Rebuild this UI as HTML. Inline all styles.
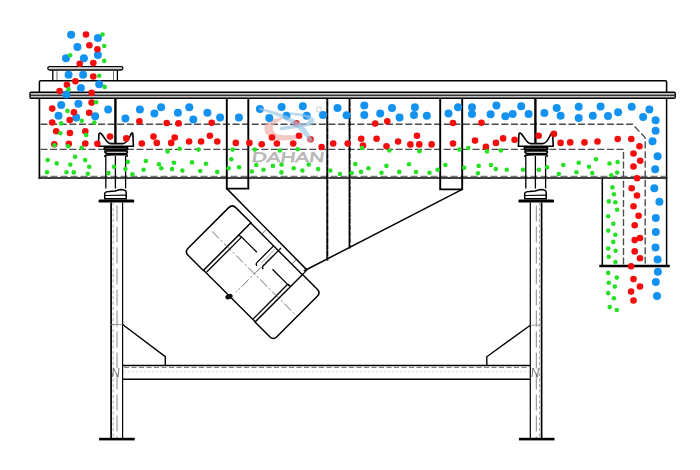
<!DOCTYPE html>
<html><head><meta charset="utf-8"><style>html,body{margin:0;padding:0;background:#fff;width:700px;height:470px;overflow:hidden}svg{display:block}</style></head><body>
<svg width="700" height="470" viewBox="0 0 700 470">
<rect width="700" height="470" fill="#fff"/>
<rect x="47.8" y="66.6" width="75" height="3.4" rx="1.7" fill="#fff" stroke="#000" stroke-width="1.3"/>
<line x1="49" y1="68.3" x2="121.5" y2="68.3" stroke="#999" stroke-width="0.6"/>
<line x1="52.8" y1="70" x2="52.8" y2="80.7" stroke="#000" stroke-width="1.3"/>
<line x1="117.4" y1="70" x2="117.4" y2="80.7" stroke="#000" stroke-width="1.3"/>
<line x1="57" y1="71.2" x2="57" y2="79.8" stroke="#444" stroke-width="0.8"/>
<line x1="113.5" y1="71.2" x2="113.5" y2="79.8" stroke="#444" stroke-width="0.8"/>
<path d="M39.4,92.5 L39.4,82 Q39.4,80.7 40.7,80.7 L665.3,80.7 Q666.6,80.7 666.6,82 L666.6,92.5" fill="none" stroke="#000" stroke-width="1.5"/>
<rect x="30" y="92.3" width="645.2" height="5.9" rx="1" fill="#c4c4c4" stroke="#000" stroke-width="1.4"/>
<line x1="30.5" y1="95.3" x2="674.7" y2="95.3" stroke="#000" stroke-width="1.1"/>
<line x1="39.4" y1="98.5" x2="39.4" y2="178.8" stroke="#000" stroke-width="1.7"/>
<line x1="666.6" y1="98.5" x2="666.6" y2="266" stroke="#000" stroke-width="1.5"/>
<line x1="38.6" y1="178" x2="667.3" y2="178" stroke="#000" stroke-width="1.5"/>
<line x1="40.5" y1="176.3" x2="665.5" y2="176.3" stroke="#777" stroke-width="1.3" stroke-dasharray="7 3"/>
<line x1="602.3" y1="178" x2="602.3" y2="265.7" stroke="#000" stroke-width="1.5"/>
<line x1="599.3" y1="266" x2="669.8" y2="266" stroke="#000" stroke-width="2.6"/>
<path d="M40.5,124.2 L632.6,124.2 L645.2,137.9 L645.2,265" fill="none" stroke="#4a4a4a" stroke-width="1.35" stroke-dasharray="7 2.6"/>
<path d="M40.5,149.3 L623.5,149.3 L623.5,265" fill="none" stroke="#4a4a4a" stroke-width="1.35" stroke-dasharray="7 2.6"/>
<path d="M226.8,98.5 L226.8,188.6 L248.3,188.6 L248.3,98.5" fill="none" stroke="#000" stroke-width="1.9"/>
<path d="M440.2,98.5 L440.2,189.4 L462.2,189.4 L462.2,98.5" fill="none" stroke="#000" stroke-width="1.9"/>
<line x1="327.3" y1="98.5" x2="327.3" y2="260.6" stroke="#000" stroke-width="2"/>
<line x1="349.6" y1="98.5" x2="349.6" y2="248.4" stroke="#000" stroke-width="2"/>
<line x1="328.2" y1="100" x2="328.2" y2="258" stroke="#fff" stroke-width="0.6" stroke-dasharray="1.5 5"/>
<line x1="350.5" y1="100" x2="350.5" y2="246" stroke="#fff" stroke-width="0.6" stroke-dasharray="1.5 5"/>
<line x1="226.8" y1="188.6" x2="306.6" y2="269.6" stroke="#000" stroke-width="1.5"/>
<line x1="462.2" y1="189.4" x2="303.8" y2="271" stroke="#000" stroke-width="1.5"/>
<line x1="115.4" y1="98" x2="115.4" y2="144" stroke="#000" stroke-width="2.4"/>
<path d="M98.39999999999999,146.3 L98.89999999999999,134.2 Q99.6,132.3 101.1,133.6 C104.6,137 106.6,143.6 110.6,143.6 L122.9,143.6 C127.4,143.6 129.4,137 131.4,133.5 Q132.70000000000002,132 132.9,134.2 L133.4,146.3 Z" fill="none" stroke="#000" stroke-width="1.6" stroke-linejoin="round"/>
<rect x="104.2" y="147.4" width="23.5" height="2.4" rx="1.2" fill="#555" stroke="#000" stroke-width="1.7"/>
<path d="M105.2,151 L126.7,150.8 Q128.2,152 126.7,153.3 L110.2,153.6 Q103.7,153.6 105.2,151 Z" fill="none" stroke="#000" stroke-width="1.7"/>
<path d="M105.0,156.8 Q104.2,155 108.2,154.8 L125.7,154.4 Q128.0,155 126.7,156.8" fill="none" stroke="#000" stroke-width="1.7"/>
<line x1="105.80000000000001" y1="156" x2="105.80000000000001" y2="188.5" stroke="#000" stroke-width="1.3"/>
<line x1="115.4" y1="156" x2="115.4" y2="188.5" stroke="#000" stroke-width="1.3"/>
<line x1="125.60000000000001" y1="156" x2="125.60000000000001" y2="188.5" stroke="#000" stroke-width="1.3"/>
<path d="M104.7,193.5 Q105.2,191.5 109.2,191.5 L115.2,191 L120.2,189.5 Q126.2,189.5 126.2,192.5 L126.2,198.8 L104.7,198.8 Z" fill="none" stroke="#000" stroke-width="1.5"/>
<line x1="105.2" y1="195.5" x2="126.2" y2="195.2" stroke="#000" stroke-width="1.2"/>
<line x1="535.4" y1="98" x2="535.4" y2="144" stroke="#000" stroke-width="2.4"/>
<path d="M518.4,146.3 L518.9,134.2 Q519.6,132.3 521.1,133.6 C524.6,137 526.6,143.6 530.6,143.6 L542.7,143.6 C547.2,143.6 549.2,137 551.2,133.5 Q552.5,132 552.7,134.2 L553.2,146.3 Z" fill="none" stroke="#000" stroke-width="1.6" stroke-linejoin="round"/>
<rect x="524.1999999999999" y="147.4" width="23.5" height="2.4" rx="1.2" fill="#555" stroke="#000" stroke-width="1.7"/>
<path d="M525.1999999999999,151 L546.6999999999999,150.8 Q548.1999999999999,152 546.6999999999999,153.3 L530.1999999999999,153.6 Q523.6999999999999,153.6 525.1999999999999,151 Z" fill="none" stroke="#000" stroke-width="1.7"/>
<path d="M524.9999999999999,156.8 Q524.1999999999999,155 528.1999999999999,154.8 L545.6999999999999,154.4 Q547.9999999999999,155 546.6999999999999,156.8" fill="none" stroke="#000" stroke-width="1.7"/>
<line x1="525.8" y1="156" x2="525.8" y2="188.5" stroke="#000" stroke-width="1.3"/>
<line x1="535.4" y1="156" x2="535.4" y2="188.5" stroke="#000" stroke-width="1.3"/>
<line x1="545.6" y1="156" x2="545.6" y2="188.5" stroke="#000" stroke-width="1.3"/>
<path d="M524.6999999999999,193.5 Q525.1999999999999,191.5 529.1999999999999,191.5 L535.1999999999999,191 L540.1999999999999,189.5 Q546.1999999999999,189.5 546.1999999999999,192.5 L546.1999999999999,198.8 L524.6999999999999,198.8 Z" fill="none" stroke="#000" stroke-width="1.5"/>
<line x1="525.1999999999999" y1="195.5" x2="546.1999999999999" y2="195.2" stroke="#000" stroke-width="1.2"/>
<rect x="98.6" y="199.6" width="35.599999999999994" height="3" rx="1.2" fill="#000"/>
<line x1="111.1" y1="202.5" x2="111.1" y2="438.2" stroke="#000" stroke-width="1.7"/>
<line x1="122.6" y1="202.5" x2="122.6" y2="438.2" stroke="#000" stroke-width="1.2"/>
<line x1="113.19999999999999" y1="202.5" x2="113.19999999999999" y2="438.2" stroke="#999" stroke-width="0.8" stroke-dasharray="3 2.5"/>
<line x1="117.0" y1="205.5" x2="117.0" y2="438.2" stroke="#888" stroke-width="1" stroke-dasharray="16 5"/>
<rect x="99.1" y="437.8" width="35.599999999999994" height="2.6" fill="#000"/>
<rect x="518.4" y="199.6" width="35.60000000000002" height="3" rx="1.2" fill="#000"/>
<line x1="541.6" y1="202.5" x2="541.6" y2="438.2" stroke="#000" stroke-width="1.7"/>
<line x1="530.3" y1="202.5" x2="530.3" y2="438.2" stroke="#000" stroke-width="1.2"/>
<line x1="539.5" y1="202.5" x2="539.5" y2="438.2" stroke="#999" stroke-width="0.8" stroke-dasharray="3 2.5"/>
<line x1="536.3" y1="205.5" x2="536.3" y2="438.2" stroke="#888" stroke-width="1" stroke-dasharray="16 5"/>
<rect x="518.9" y="437.8" width="35.60000000000002" height="2.6" fill="#000"/>
<line x1="122.6" y1="365.5" x2="530.3" y2="365.5" stroke="#000" stroke-width="1.4"/>
<line x1="122.6" y1="379.2" x2="530.3" y2="379.2" stroke="#000" stroke-width="1.4"/>
<line x1="124" y1="367.4" x2="529" y2="367.4" stroke="#777" stroke-width="1" stroke-dasharray="5 2.5"/>
<line x1="124" y1="371.5" x2="529" y2="371.5" stroke="#ccc" stroke-width="0.6" stroke-dasharray="2 2"/>
<path d="M122.6,324.5 L165.3,356.6 L165.3,365.5" fill="none" stroke="#000" stroke-width="1.4"/>
<path d="M530.3,325.2 L486.8,356.8 L486.8,365.5" fill="none" stroke="#000" stroke-width="1.4"/>
<line x1="110" y1="324.5" x2="122.6" y2="324.5" stroke="#777" stroke-width="0.7"/>
<line x1="530.3" y1="325.2" x2="543" y2="325.2" stroke="#777" stroke-width="0.7"/>
<path d="M112.5,377 L113.5,368 L118,377 L119,368" fill="none" stroke="#555" stroke-width="0.8"/>
<path d="M532,377 L533,368 L537.5,377 L538.5,368" fill="none" stroke="#555" stroke-width="0.8"/>
<g transform="translate(253,272.4) rotate(45)"><path d="M-36.5,-33.6 L-58,-33.6 Q-63,-33.6 -63,-28.6 L-63,28.8 Q-63,33.8 -58,33.8 L-36.5,33.8 Z" fill="#fff" stroke="#000" stroke-width="1.5"/><path d="M36.5,-33.6 L57.3,-33.6 Q62.3,-33.6 62.3,-28.6 L62.3,28.6 Q62.3,33.6 57.3,33.6 L36.5,33.6 Z" fill="#fff" stroke="#000" stroke-width="1.5"/><line x1="-36.5" y1="-33.3" x2="36.5" y2="-33.3" stroke="#000" stroke-width="1.4"/><line x1="-36.5" y1="33.4" x2="36.5" y2="33.4" stroke="#000" stroke-width="1.4"/><line x1="-33" y1="-16.5" x2="-33" y2="32.5" stroke="#000" stroke-width="1.3"/><line x1="-36.5" y1="-16.5" x2="-33" y2="-16.5" stroke="#000" stroke-width="1.3"/><line x1="-34" y1="-17" x2="-11.5" y2="-17" stroke="#000" stroke-width="1.3"/><line x1="33" y1="-16.5" x2="33" y2="32.5" stroke="#000" stroke-width="1.3"/><line x1="33" y1="-16.5" x2="36.5" y2="-16.5" stroke="#000" stroke-width="1.3"/><line x1="11.5" y1="-16" x2="35" y2="-16" stroke="#000" stroke-width="1.3"/><path d="M-4.2,-33.3 L-4.2,-10 Q-4.2,-7.5 -1.8,-7.5" fill="none" stroke="#000" stroke-width="1.3"/><path d="M2.6,-37 L2.6,-12 Q2.6,-9.5 5,-9.5" fill="none" stroke="#000" stroke-width="1.3"/><line x1="-0.8" y1="-33" x2="-0.8" y2="-12" stroke="#777" stroke-width="0.6"/><line x1="-21" y1="-39.5" x2="-21" y2="-33.3" stroke="#555" stroke-width="0.8"/><line x1="21.5" y1="-39.5" x2="21.5" y2="-33.3" stroke="#555" stroke-width="0.8"/><line x1="36.5" y1="-40" x2="36.5" y2="-33.3" stroke="#000" stroke-width="1.2"/><line x1="-58" y1="0" x2="62" y2="0" stroke="#555" stroke-width="0.8" stroke-dasharray="10 2.5 2 2.5"/><line x1="2" y1="-26" x2="2" y2="26" stroke="#555" stroke-width="0.8" stroke-dasharray="10 2.5 2 2.5"/></g>
<ellipse cx="229" cy="296.6" rx="3.8" ry="2.6" transform="rotate(-20 229 296.6)" fill="#111"/>
<path d="M282,118 C270,118.5 264,123 264.4,129 C264.8,136 273,140.6 283,140.4 C290,140.2 296,139.5 299.5,138 L298,134.5 C293,135.5 287,135.5 281,135.1 C276,134.5 272.5,131 273,127.7 C273.5,124 277,121 282,120 Z" fill="#eeb0ac" fill-opacity="0.7"/>
<circle cx="71.1" cy="34.8" r="4" fill="#1492f2"/>
<circle cx="97.9" cy="37.9" r="4" fill="#1492f2"/>
<circle cx="77.4" cy="46.9" r="4" fill="#1492f2"/>
<circle cx="66" cy="58.3" r="4" fill="#1492f2"/>
<circle cx="83.9" cy="58.3" r="4" fill="#1492f2"/>
<circle cx="97.9" cy="54.9" r="4" fill="#1492f2"/>
<circle cx="68.6" cy="74.8" r="4" fill="#1492f2"/>
<circle cx="83.1" cy="74.8" r="4" fill="#1492f2"/>
<circle cx="99.2" cy="84.3" r="4" fill="#1492f2"/>
<circle cx="80.9" cy="88.1" r="4" fill="#1492f2"/>
<circle cx="66.4" cy="94.4" r="4" fill="#1492f2"/>
<circle cx="61.2" cy="104.9" r="4" fill="#1492f2"/>
<circle cx="78.4" cy="103.7" r="4" fill="#1492f2"/>
<circle cx="108.2" cy="109.5" r="4" fill="#1492f2"/>
<circle cx="58.5" cy="115.8" r="4" fill="#1492f2"/>
<circle cx="76.2" cy="117.6" r="4" fill="#1492f2"/>
<circle cx="95.2" cy="116.2" r="4" fill="#1492f2"/>
<circle cx="125.4" cy="118.5" r="4" fill="#1492f2"/>
<circle cx="139.9" cy="109.5" r="4" fill="#1492f2"/>
<circle cx="154.4" cy="113.6" r="4" fill="#1492f2"/>
<circle cx="161.1" cy="107.3" r="4" fill="#1492f2"/>
<circle cx="177.9" cy="112.7" r="4" fill="#1492f2"/>
<circle cx="189.3" cy="107.3" r="4" fill="#1492f2"/>
<circle cx="193.3" cy="119.4" r="4" fill="#1492f2"/>
<circle cx="207.4" cy="112.7" r="4" fill="#1492f2"/>
<circle cx="220.1" cy="117.6" r="4" fill="#1492f2"/>
<circle cx="238.9" cy="117.6" r="4" fill="#1492f2"/>
<circle cx="259.9" cy="108.9" r="4" fill="#1492f2"/>
<circle cx="281.6" cy="107.1" r="4" fill="#1492f2"/>
<circle cx="302.8" cy="106.2" r="4" fill="#1492f2"/>
<circle cx="269.3" cy="118.1" r="4" fill="#1492f2"/>
<circle cx="286.5" cy="115.8" r="4" fill="#1492f2"/>
<circle cx="306.7" cy="115.8" r="4" fill="#1492f2"/>
<circle cx="323" cy="114.9" r="4" fill="#1492f2"/>
<circle cx="337.5" cy="108" r="4" fill="#1492f2"/>
<circle cx="346.6" cy="115.3" r="4" fill="#1492f2"/>
<circle cx="364.3" cy="105.5" r="4" fill="#1492f2"/>
<circle cx="364.3" cy="114.9" r="4" fill="#1492f2"/>
<circle cx="380.2" cy="113.4" r="4" fill="#1492f2"/>
<circle cx="392" cy="108" r="4" fill="#1492f2"/>
<circle cx="399.6" cy="117.6" r="4" fill="#1492f2"/>
<circle cx="414.9" cy="107.3" r="4" fill="#1492f2"/>
<circle cx="414" cy="114.9" r="4" fill="#1492f2"/>
<circle cx="426.8" cy="115.8" r="4" fill="#1492f2"/>
<circle cx="448.5" cy="113.4" r="4" fill="#1492f2"/>
<circle cx="458" cy="107.3" r="4" fill="#1492f2"/>
<circle cx="472" cy="107.3" r="4" fill="#1492f2"/>
<circle cx="472" cy="114" r="4" fill="#1492f2"/>
<circle cx="490.6" cy="114.3" r="4" fill="#1492f2"/>
<circle cx="496.4" cy="105.5" r="4" fill="#1492f2"/>
<circle cx="505.4" cy="116.3" r="4" fill="#1492f2"/>
<circle cx="512.7" cy="114" r="4" fill="#1492f2"/>
<circle cx="521.2" cy="106.2" r="4" fill="#1492f2"/>
<circle cx="528.6" cy="114" r="4" fill="#1492f2"/>
<circle cx="544.4" cy="113.1" r="4" fill="#1492f2"/>
<circle cx="556.7" cy="108" r="4" fill="#1492f2"/>
<circle cx="560.6" cy="115.8" r="4" fill="#1492f2"/>
<circle cx="578.7" cy="106.8" r="4" fill="#1492f2"/>
<circle cx="578.7" cy="118.1" r="4" fill="#1492f2"/>
<circle cx="592.8" cy="115.8" r="4" fill="#1492f2"/>
<circle cx="600.6" cy="106.4" r="4" fill="#1492f2"/>
<circle cx="608" cy="116" r="4" fill="#1492f2"/>
<circle cx="618.1" cy="112.2" r="4" fill="#1492f2"/>
<circle cx="631.7" cy="106.8" r="4" fill="#1492f2"/>
<circle cx="649.4" cy="109.5" r="4" fill="#1492f2"/>
<circle cx="643.1" cy="117.1" r="4" fill="#1492f2"/>
<circle cx="655.6" cy="120.3" r="4" fill="#1492f2"/>
<circle cx="655.6" cy="130.8" r="4" fill="#1492f2"/>
<circle cx="652.5" cy="141.2" r="4" fill="#1492f2"/>
<circle cx="657.6" cy="156.2" r="4" fill="#1492f2"/>
<circle cx="655.2" cy="169.2" r="4" fill="#1492f2"/>
<circle cx="654.3" cy="188.3" r="4" fill="#1492f2"/>
<circle cx="659.4" cy="201.7" r="4" fill="#1492f2"/>
<circle cx="655.8" cy="218.1" r="4" fill="#1492f2"/>
<circle cx="655.8" cy="232.1" r="4" fill="#1492f2"/>
<circle cx="655.5" cy="247.6" r="4" fill="#1492f2"/>
<circle cx="657.6" cy="259.5" r="4" fill="#1492f2"/>
<circle cx="657.9" cy="271.7" r="4" fill="#1492f2"/>
<circle cx="655.8" cy="282.1" r="4" fill="#1492f2"/>
<circle cx="657" cy="296.1" r="4" fill="#1492f2"/>
<circle cx="86" cy="34.5" r="3.3" fill="#f50c0c"/>
<circle cx="89.4" cy="45.2" r="3.3" fill="#f50c0c"/>
<circle cx="97.4" cy="49.3" r="3.3" fill="#f50c0c"/>
<circle cx="79.7" cy="63.7" r="3.3" fill="#f50c0c"/>
<circle cx="93.3" cy="63.1" r="3.3" fill="#f50c0c"/>
<circle cx="93.3" cy="76.5" r="3.3" fill="#f50c0c"/>
<circle cx="75.4" cy="81.3" r="3.3" fill="#f50c0c"/>
<circle cx="66.9" cy="84.7" r="3.3" fill="#f50c0c"/>
<circle cx="59.6" cy="91" r="3.3" fill="#f50c0c"/>
<circle cx="91.6" cy="92.9" r="3.3" fill="#f50c0c"/>
<circle cx="52.2" cy="108.6" r="3.3" fill="#f50c0c"/>
<circle cx="91.6" cy="102.6" r="3.3" fill="#f50c0c"/>
<circle cx="73.9" cy="112.2" r="3.3" fill="#f50c0c"/>
<circle cx="89.2" cy="112.7" r="3.3" fill="#f50c0c"/>
<circle cx="69.7" cy="120" r="3.3" fill="#f50c0c"/>
<circle cx="52.2" cy="122.5" r="3.3" fill="#f50c0c"/>
<circle cx="56.2" cy="131.2" r="3.3" fill="#f50c0c"/>
<circle cx="69.9" cy="133" r="3.3" fill="#f50c0c"/>
<circle cx="85.3" cy="131.2" r="3.3" fill="#f50c0c"/>
<circle cx="110" cy="136.6" r="3.3" fill="#f50c0c"/>
<circle cx="126.3" cy="138.4" r="3.3" fill="#f50c0c"/>
<circle cx="54.3" cy="144.2" r="3.3" fill="#f50c0c"/>
<circle cx="68.8" cy="143.8" r="3.3" fill="#f50c0c"/>
<circle cx="85.3" cy="143.5" r="3.3" fill="#f50c0c"/>
<circle cx="97.4" cy="143.8" r="3.3" fill="#f50c0c"/>
<circle cx="139.4" cy="121.2" r="3.3" fill="#f50c0c"/>
<circle cx="166.7" cy="123" r="3.3" fill="#f50c0c"/>
<circle cx="178.5" cy="123.4" r="3.3" fill="#f50c0c"/>
<circle cx="211.7" cy="122.7" r="3.3" fill="#f50c0c"/>
<circle cx="153.5" cy="136.6" r="3.3" fill="#f50c0c"/>
<circle cx="156.8" cy="142.9" r="3.3" fill="#f50c0c"/>
<circle cx="141.8" cy="143.5" r="3.3" fill="#f50c0c"/>
<circle cx="174.7" cy="137.5" r="3.3" fill="#f50c0c"/>
<circle cx="171.2" cy="142.9" r="3.3" fill="#f50c0c"/>
<circle cx="189.1" cy="141.5" r="3.3" fill="#f50c0c"/>
<circle cx="201.1" cy="141.5" r="3.3" fill="#f50c0c"/>
<circle cx="209.9" cy="135.7" r="3.3" fill="#f50c0c"/>
<circle cx="217.3" cy="141.5" r="3.3" fill="#f50c0c"/>
<circle cx="235.8" cy="142.9" r="3.3" fill="#f50c0c"/>
<circle cx="249.4" cy="142.9" r="3.3" fill="#f50c0c"/>
<circle cx="261.7" cy="144.2" r="3.3" fill="#f50c0c"/>
<circle cx="276.9" cy="143.5" r="3.3" fill="#f50c0c"/>
<circle cx="293.2" cy="143.5" r="3.3" fill="#f50c0c"/>
<circle cx="272" cy="137.5" r="3.3" fill="#f50c0c"/>
<circle cx="296.4" cy="123.4" r="3.3" fill="#f50c0c"/>
<circle cx="299.1" cy="135.7" r="3.3" fill="#f50c0c"/>
<circle cx="310.5" cy="139.3" r="3.3" fill="#f50c0c"/>
<circle cx="321.6" cy="147" r="3.3" fill="#f50c0c"/>
<circle cx="333.2" cy="143.5" r="3.3" fill="#f50c0c"/>
<circle cx="347.7" cy="143.5" r="3.3" fill="#f50c0c"/>
<circle cx="361.2" cy="138.8" r="3.3" fill="#f50c0c"/>
<circle cx="363" cy="145.6" r="3.3" fill="#f50c0c"/>
<circle cx="375.2" cy="123.6" r="3.3" fill="#f50c0c"/>
<circle cx="387.3" cy="121.2" r="3.3" fill="#f50c0c"/>
<circle cx="376.6" cy="138.8" r="3.3" fill="#f50c0c"/>
<circle cx="386.5" cy="146.2" r="3.3" fill="#f50c0c"/>
<circle cx="398.1" cy="141.5" r="3.3" fill="#f50c0c"/>
<circle cx="410.4" cy="144.4" r="3.3" fill="#f50c0c"/>
<circle cx="417" cy="135.7" r="3.3" fill="#f50c0c"/>
<circle cx="419.3" cy="144.4" r="3.3" fill="#f50c0c"/>
<circle cx="431.6" cy="144.4" r="3.3" fill="#f50c0c"/>
<circle cx="453" cy="123" r="3.3" fill="#f50c0c"/>
<circle cx="453" cy="143.5" r="3.3" fill="#f50c0c"/>
<circle cx="475" cy="140.6" r="3.3" fill="#f50c0c"/>
<circle cx="481.5" cy="122.7" r="3.3" fill="#f50c0c"/>
<circle cx="485.9" cy="146.9" r="3.3" fill="#f50c0c"/>
<circle cx="496" cy="142.9" r="3.3" fill="#f50c0c"/>
<circle cx="503.1" cy="138.4" r="3.3" fill="#f50c0c"/>
<circle cx="514.6" cy="139.7" r="3.3" fill="#f50c0c"/>
<circle cx="538.6" cy="135.7" r="3.3" fill="#f50c0c"/>
<circle cx="553.9" cy="133.9" r="3.3" fill="#f50c0c"/>
<circle cx="560.6" cy="142.9" r="3.3" fill="#f50c0c"/>
<circle cx="570.2" cy="142.4" r="3.3" fill="#f50c0c"/>
<circle cx="584.5" cy="142.4" r="3.3" fill="#f50c0c"/>
<circle cx="597.5" cy="141.5" r="3.3" fill="#f50c0c"/>
<circle cx="617.7" cy="139" r="3.3" fill="#f50c0c"/>
<circle cx="631.3" cy="139" r="3.3" fill="#f50c0c"/>
<circle cx="639.5" cy="146.2" r="3.3" fill="#f50c0c"/>
<circle cx="633.5" cy="153.5" r="3.3" fill="#f50c0c"/>
<circle cx="640.2" cy="160.7" r="3.3" fill="#f50c0c"/>
<circle cx="633.5" cy="166.5" r="3.3" fill="#f50c0c"/>
<circle cx="637.1" cy="178.3" r="3.3" fill="#f50c0c"/>
<circle cx="631.7" cy="188.3" r="3.3" fill="#f50c0c"/>
<circle cx="637" cy="195.5" r="3.3" fill="#f50c0c"/>
<circle cx="633.5" cy="206.2" r="3.3" fill="#f50c0c"/>
<circle cx="638.6" cy="215.7" r="3.3" fill="#f50c0c"/>
<circle cx="634.7" cy="225.2" r="3.3" fill="#f50c0c"/>
<circle cx="640" cy="238" r="3.3" fill="#f50c0c"/>
<circle cx="634.7" cy="240.1" r="3.3" fill="#f50c0c"/>
<circle cx="634.7" cy="251.4" r="3.3" fill="#f50c0c"/>
<circle cx="640" cy="258.3" r="3.3" fill="#f50c0c"/>
<circle cx="631.1" cy="266.3" r="3.3" fill="#f50c0c"/>
<circle cx="633.5" cy="279.1" r="3.3" fill="#f50c0c"/>
<circle cx="640" cy="286.5" r="3.3" fill="#f50c0c"/>
<circle cx="631.1" cy="291.6" r="3.3" fill="#f50c0c"/>
<circle cx="633.5" cy="300.5" r="3.3" fill="#f50c0c"/>
<circle cx="102.5" cy="34.5" r="2.3" fill="#26e026"/>
<circle cx="104.2" cy="46" r="2.3" fill="#26e026"/>
<circle cx="70.1" cy="55.2" r="2.3" fill="#26e026"/>
<circle cx="104.2" cy="60.9" r="2.3" fill="#26e026"/>
<circle cx="99.2" cy="75.8" r="2.3" fill="#26e026"/>
<circle cx="104.7" cy="86.9" r="2.3" fill="#26e026"/>
<circle cx="68.4" cy="89.3" r="2.3" fill="#26e026"/>
<circle cx="96.1" cy="102.2" r="2.3" fill="#26e026"/>
<circle cx="67.5" cy="110.9" r="2.3" fill="#26e026"/>
<circle cx="61.2" cy="123.4" r="2.3" fill="#26e026"/>
<circle cx="81.7" cy="120.7" r="2.3" fill="#26e026"/>
<circle cx="94.3" cy="122.5" r="2.3" fill="#26e026"/>
<circle cx="60.3" cy="133.3" r="2.3" fill="#26e026"/>
<circle cx="86.2" cy="135.1" r="2.3" fill="#26e026"/>
<circle cx="54.5" cy="145.3" r="2.3" fill="#26e026"/>
<circle cx="68.1" cy="146.2" r="2.3" fill="#26e026"/>
<circle cx="81.7" cy="147.8" r="2.3" fill="#26e026"/>
<circle cx="75.1" cy="156.8" r="2.3" fill="#26e026"/>
<circle cx="47.7" cy="160.1" r="2.3" fill="#26e026"/>
<circle cx="56.7" cy="163.4" r="2.3" fill="#26e026"/>
<circle cx="70.3" cy="164.6" r="2.3" fill="#26e026"/>
<circle cx="85.1" cy="160.1" r="2.3" fill="#26e026"/>
<circle cx="89.2" cy="166.8" r="2.3" fill="#26e026"/>
<circle cx="47" cy="172.2" r="2.3" fill="#26e026"/>
<circle cx="66.5" cy="172.2" r="2.3" fill="#26e026"/>
<circle cx="73.8" cy="172.4" r="2.3" fill="#26e026"/>
<circle cx="87.8" cy="173.7" r="2.3" fill="#26e026"/>
<circle cx="114" cy="166.8" r="2.3" fill="#26e026"/>
<circle cx="127.8" cy="161.9" r="2.3" fill="#26e026"/>
<circle cx="125.4" cy="169.1" r="2.3" fill="#26e026"/>
<circle cx="108.6" cy="173.1" r="2.3" fill="#26e026"/>
<circle cx="132.4" cy="174.3" r="2.3" fill="#26e026"/>
<circle cx="167.6" cy="151.4" r="2.3" fill="#26e026"/>
<circle cx="179.7" cy="148.7" r="2.3" fill="#26e026"/>
<circle cx="198.4" cy="149.6" r="2.3" fill="#26e026"/>
<circle cx="145.9" cy="161" r="2.3" fill="#26e026"/>
<circle cx="158.9" cy="164.3" r="2.3" fill="#26e026"/>
<circle cx="173.9" cy="162.8" r="2.3" fill="#26e026"/>
<circle cx="192" cy="162.4" r="2.3" fill="#26e026"/>
<circle cx="206" cy="163.7" r="2.3" fill="#26e026"/>
<circle cx="143.6" cy="169.7" r="2.3" fill="#26e026"/>
<circle cx="161.3" cy="168.2" r="2.3" fill="#26e026"/>
<circle cx="172.1" cy="169.1" r="2.3" fill="#26e026"/>
<circle cx="182.4" cy="170.6" r="2.3" fill="#26e026"/>
<circle cx="200.2" cy="171" r="2.3" fill="#26e026"/>
<circle cx="217.3" cy="171.9" r="2.3" fill="#26e026"/>
<circle cx="228.6" cy="168.2" r="2.3" fill="#26e026"/>
<circle cx="232.6" cy="149.6" r="2.3" fill="#26e026"/>
<circle cx="254.8" cy="149.6" r="2.3" fill="#26e026"/>
<circle cx="279.8" cy="150.5" r="2.3" fill="#26e026"/>
<circle cx="297.7" cy="149.2" r="2.3" fill="#26e026"/>
<circle cx="231.3" cy="159.2" r="2.3" fill="#26e026"/>
<circle cx="239.1" cy="167.3" r="2.3" fill="#26e026"/>
<circle cx="256.3" cy="165" r="2.3" fill="#26e026"/>
<circle cx="251.8" cy="171.5" r="2.3" fill="#26e026"/>
<circle cx="263.5" cy="169.7" r="2.3" fill="#26e026"/>
<circle cx="272.9" cy="165.9" r="2.3" fill="#26e026"/>
<circle cx="281.6" cy="164.6" r="2.3" fill="#26e026"/>
<circle cx="281.4" cy="172.4" r="2.3" fill="#26e026"/>
<circle cx="293.7" cy="168.2" r="2.3" fill="#26e026"/>
<circle cx="302.4" cy="170.6" r="2.3" fill="#26e026"/>
<circle cx="308.7" cy="164.6" r="2.3" fill="#26e026"/>
<circle cx="318.1" cy="169.1" r="2.3" fill="#26e026"/>
<circle cx="362" cy="148" r="2.3" fill="#26e026"/>
<circle cx="389.3" cy="150.5" r="2.3" fill="#26e026"/>
<circle cx="419.5" cy="151.2" r="2.3" fill="#26e026"/>
<circle cx="355.3" cy="164.1" r="2.3" fill="#26e026"/>
<circle cx="368.5" cy="168.2" r="2.3" fill="#26e026"/>
<circle cx="386.4" cy="165.9" r="2.3" fill="#26e026"/>
<circle cx="409" cy="164.3" r="2.3" fill="#26e026"/>
<circle cx="330.3" cy="170.6" r="2.3" fill="#26e026"/>
<circle cx="339.9" cy="174" r="2.3" fill="#26e026"/>
<circle cx="351.6" cy="173.1" r="2.3" fill="#26e026"/>
<circle cx="361" cy="171.9" r="2.3" fill="#26e026"/>
<circle cx="381.5" cy="172.8" r="2.3" fill="#26e026"/>
<circle cx="399.2" cy="171.9" r="2.3" fill="#26e026"/>
<circle cx="416" cy="172" r="2.3" fill="#26e026"/>
<circle cx="459.3" cy="149.6" r="2.3" fill="#26e026"/>
<circle cx="468.3" cy="148" r="2.3" fill="#26e026"/>
<circle cx="487" cy="151.4" r="2.3" fill="#26e026"/>
<circle cx="500.9" cy="150.5" r="2.3" fill="#26e026"/>
<circle cx="445.4" cy="165" r="2.3" fill="#26e026"/>
<circle cx="464.2" cy="167.7" r="2.3" fill="#26e026"/>
<circle cx="478.7" cy="165.9" r="2.3" fill="#26e026"/>
<circle cx="491" cy="165" r="2.3" fill="#26e026"/>
<circle cx="495.8" cy="169.1" r="2.3" fill="#26e026"/>
<circle cx="506.7" cy="169.7" r="2.3" fill="#26e026"/>
<circle cx="429.5" cy="172.8" r="2.3" fill="#26e026"/>
<circle cx="437.6" cy="169.7" r="2.3" fill="#26e026"/>
<circle cx="477.9" cy="173.3" r="2.3" fill="#26e026"/>
<circle cx="523" cy="169.7" r="2.3" fill="#26e026"/>
<circle cx="538.9" cy="169.7" r="2.3" fill="#26e026"/>
<circle cx="547.1" cy="167.3" r="2.3" fill="#26e026"/>
<circle cx="563.3" cy="165" r="2.3" fill="#26e026"/>
<circle cx="578.7" cy="162.8" r="2.3" fill="#26e026"/>
<circle cx="595.9" cy="159.2" r="2.3" fill="#26e026"/>
<circle cx="609.5" cy="163.5" r="2.3" fill="#26e026"/>
<circle cx="558.8" cy="174" r="2.3" fill="#26e026"/>
<circle cx="576.4" cy="172.2" r="2.3" fill="#26e026"/>
<circle cx="589" cy="166.8" r="2.3" fill="#26e026"/>
<circle cx="592.3" cy="173.1" r="2.3" fill="#26e026"/>
<circle cx="617.6" cy="162" r="2.3" fill="#26e026"/>
<circle cx="611.2" cy="175.2" r="2.3" fill="#26e026"/>
<circle cx="617.2" cy="172.5" r="2.3" fill="#26e026"/>
<circle cx="612.4" cy="187.4" r="2.3" fill="#26e026"/>
<circle cx="613.9" cy="194.3" r="2.3" fill="#26e026"/>
<circle cx="608.8" cy="201.4" r="2.3" fill="#26e026"/>
<circle cx="615.4" cy="202.3" r="2.3" fill="#26e026"/>
<circle cx="617.1" cy="209.8" r="2.3" fill="#26e026"/>
<circle cx="608.2" cy="216.3" r="2.3" fill="#26e026"/>
<circle cx="613.3" cy="223.75" r="2.3" fill="#26e026"/>
<circle cx="608.2" cy="230.6" r="2.3" fill="#26e026"/>
<circle cx="615.4" cy="234.8" r="2.3" fill="#26e026"/>
<circle cx="613.3" cy="241.9" r="2.3" fill="#26e026"/>
<circle cx="608.2" cy="248.5" r="2.3" fill="#26e026"/>
<circle cx="615.6" cy="250.8" r="2.3" fill="#26e026"/>
<circle cx="608.8" cy="256.8" r="2.3" fill="#26e026"/>
<circle cx="615.4" cy="262.1" r="2.3" fill="#26e026"/>
<circle cx="608.2" cy="272.9" r="2.3" fill="#26e026"/>
<circle cx="616.8" cy="277.6" r="2.3" fill="#26e026"/>
<circle cx="608.8" cy="282.7" r="2.3" fill="#26e026"/>
<circle cx="614.8" cy="286.5" r="2.3" fill="#26e026"/>
<circle cx="608.2" cy="293.1" r="2.3" fill="#26e026"/>
<circle cx="613.9" cy="298.2" r="2.3" fill="#26e026"/>
<circle cx="609.7" cy="307.1" r="2.3" fill="#26e026"/>
<circle cx="616.8" cy="310" r="2.3" fill="#26e026"/>
<path d="M259.5,107.5 C275,111 290,116 299,122.5 C305,127 310,134 313,140.5 L309.5,142.5 C306,137 301,131 295,126 C287,120 274,114 259.5,109.8 Z" fill="#9cc6e4" fill-opacity="0.68"/>
<path d="M290,112.3 C300,113.3 310,114.3 313.8,118.5 C316.5,122 312,126 305,126.8 L282,130.2 C279.2,130.4 278.6,127.2 281.5,126.7 L304,123.3 C308.5,122.5 309.5,120.3 308,118.8 C305,116.8 298,115.8 290,114.6 Z" fill="#9cc6e4" fill-opacity="0.68"/>
<circle cx="319" cy="109.6" r="2.6" fill="none" stroke="#aaa" stroke-width="0.6"/>
<text x="0" y="0" transform="translate(251.2,162.2) skewX(-8) scale(1.5,1)" font-family="Liberation Sans, sans-serif" font-size="13.8" fill="#cacaca" stroke="#a2a2a2" stroke-width="0.45">DAHAN</text>
</svg>
</body></html>
